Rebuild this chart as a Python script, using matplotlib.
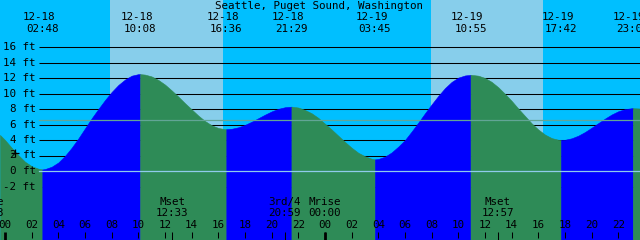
import matplotlib
matplotlib.use("Agg")
import matplotlib.pyplot as plt
import numpy as np

# ---------------- data ----------------
title = "Seattle, Puget Sound, Washington"

# water level (hours since 12-18 00:00, feet)
curve_t = [-0.375, 0, 0.5, 1, 1.5, 2, 2.5, 3, 3.5, 4, 4.5, 5, 5.5, 6, 6.5, 7,
           7.5, 8, 8.5, 9, 9.5, 10, 10.5, 11, 11.5, 12, 12.5, 13, 13.5, 14,
           14.5, 15, 15.5, 16, 16.5, 17, 17.5, 18, 18.5, 19, 19.5, 20, 20.5,
           21, 21.5, 22, 22.5, 23, 23.5, 24, 24.5, 25, 25.5, 26, 26.5, 27,
           27.5, 28, 28.5, 29, 29.5, 30, 30.5, 31, 31.5, 32, 32.5, 33, 33.5,
           34, 34.5, 35, 35.5, 36, 36.5, 37, 37.5, 38, 38.5, 39, 39.5, 40,
           40.5, 41, 41.5, 42, 42.5, 43, 43.5, 44, 44.5, 45, 45.5, 46, 46.5,
           47, 47.5, 47.625]
curve_h = [4.65, 4.0, 3.0, 2.05, 1.2, 0.62, 0.3, 0.25, 0.55, 1.1, 1.95, 3.0,
           4.2, 5.5, 6.8, 8.0, 9.15, 10.2, 11.1, 11.8, 12.3, 12.5, 12.44, 12.2,
           11.75, 11.15, 10.4, 9.6, 8.75, 7.95, 7.15, 6.45, 5.9, 5.55, 5.4,
           5.45, 5.64, 5.95, 6.36, 6.81, 7.27, 7.69, 8.02, 8.23, 8.3, 8.19,
           7.87, 7.45, 6.85, 6.1, 5.35, 4.55, 3.75, 3.0, 2.35, 1.9, 1.58, 1.55,
           1.85, 2.4, 3.15, 4.0, 5.1, 6.25, 7.45, 8.6, 9.7, 10.7, 11.5, 12.05,
           12.33, 12.4, 12.3, 12.0, 11.5, 10.8, 9.95, 9.05, 8.05, 7.1, 6.15,
           5.35, 4.7, 4.25, 4.03, 4.03, 4.22, 4.56, 5.03, 5.59, 6.18, 6.76,
           7.29, 7.71, 7.98, 8.1, 8.07, 8.05]

# high / low tide events
tide_dates = ["12-18", "12-18", "12-18", "12-18", "12-19", "12-19", "12-19", "12-19"]
tide_times = ["02:48", "10:08", "16:36", "21:29", "03:45", "10:55", "17:42", "23:05"]
tide_heights = [0.2, 12.5, 5.4, 8.3, 1.5, 12.4, 4.0, 8.1]

# moon events
moon_names = ["Mrise", "Mset", "3rd/4", "Mrise", "Mset"]
moon_days = [-1, 0, 0, 1, 1]
moon_times = ["22:43", "12:33", "20:59", "00:00", "12:57"]

# daylight (hours since 12-18 00:00)
day_start = [7.88, 31.93]
day_end = [16.33, 40.33]

depth_ticks = [16, 14, 12, 10, 8, 6, 4, 2, 0, -2]
mean_level = 6.58

# ---------------- layout helpers ----------------
W, H = 640, 240
X0, PX_H = 5.0, 13.333       # pixel of 12-18 00:00, pixels per hour
Y0, PX_FT = 171.0, 7.75      # pixel of 0 ft, pixels per foot


def tx(px):
    return (px - X0) / PX_H


def fy(py):
    return (Y0 - py) / PX_FT


def hours(day, hhmm):
    h, m = hhmm.split(":")
    return day * 24 + int(h) + int(m) / 60.0


NIGHT = "#00BFFF"
DAY = "#87CEEB"
RISE = "#0000FF"
FALL = "#2E8B57"

fig = plt.figure(figsize=(6.4, 2.4), dpi=100)
ax = fig.add_axes([0, 0, 1, 1])
xmin, xmax = tx(0), tx(W)
ymin, ymax = fy(H), fy(0)
ax.set_xlim(xmin, xmax)
ax.set_ylim(ymin, ymax)
ax.axis("off")
fig.patch.set_facecolor(NIGHT)

# background day bands
ax.axvspan(xmin, xmax, color=NIGHT, zorder=0, lw=0)
for s, e in zip(day_start, day_end):
    ax.axvspan(s, e, color=DAY, zorder=0.5, lw=0)

# depth grid lines
for d in depth_ticks:
    ax.plot([tx(39), xmax], [d, d], color="black", lw=0.75, zorder=1,
            solid_capstyle="butt")

# tide fill
ev_t = [hours(0 if d == "12-18" else 1, t) for d, t in zip(tide_dates, tide_times)]
pts = sorted(list(zip(curve_t, curve_h)) + list(zip(ev_t, tide_heights)))
pt_t = np.array([p[0] for p in pts])
pt_h = np.array([p[1] for p in pts])
bounds = [xmin] + ev_t + [xmax]
for a, b in zip(bounds[:-1], bounds[1:]):
    m = (pt_t >= a - 1e-9) & (pt_t <= b + 1e-9)
    st, sh = pt_t[m], pt_h[m]
    col = RISE if sh[-1] > sh[0] else FALL
    ax.fill_between(st, sh, ymin, color=col, lw=0.4, edgecolor=col, zorder=2)

# datum and mean lines
ax.plot([tx(39), xmax], [0, 0], color="#8fcbec", lw=0.9, zorder=3)
ax.plot([tx(39), xmax], [mean_level, mean_level], color="#62a596", lw=0.9, zorder=3)

font = dict(family="DejaVu Sans Mono", fontsize=7.8, color="black", zorder=5)

# depth labels
for d in depth_ticks:
    ax.text(tx(36), d, f"{d} ft", ha="right", va="center", **font)
ax.plot([tx(15)], [fy(153)], marker="+", color="black", ms=6, mew=0.9, zorder=5)

# title
ax.text(tx(319), fy(5.5), title, ha="center", va="center", **font)

# tide event labels
for t, d, s in zip(ev_t, tide_dates, tide_times):
    x = X0 + t * PX_H
    ax.text(tx(x - 3.5), fy(17), d, ha="center", va="center", **font)
    ax.text(t, fy(29), s, ha="center", va="center", **font)

# hour ticks and labels
for h in range(0, 48, 2):
    hh = h % 24
    if hh == 0:
        ax.plot([h, h], [fy(232), fy(240)], color="black", lw=2.0, zorder=4,
                solid_capstyle="butt")
    else:
        ax.plot([h, h], [fy(232), fy(238)], color="black", lw=0.75, zorder=4,
                solid_capstyle="butt")
    ax.text(h, fy(225.5), f"{hh:02d}", ha="center", va="center", **font)

# moon events
for name, day, s in zip(moon_names, moon_days, moon_times):
    t = hours(day, s)
    ax.text(t, fy(202), name, ha="center", va="center", **font)
    ax.text(t, fy(213), s, ha="center", va="center", **font)
    ax.plot([t, t], [fy(232), fy(240)], color="black", lw=0.75, zorder=4,
            solid_capstyle="butt")

fig.savefig("out.png", dpi=100, facecolor=NIGHT)
